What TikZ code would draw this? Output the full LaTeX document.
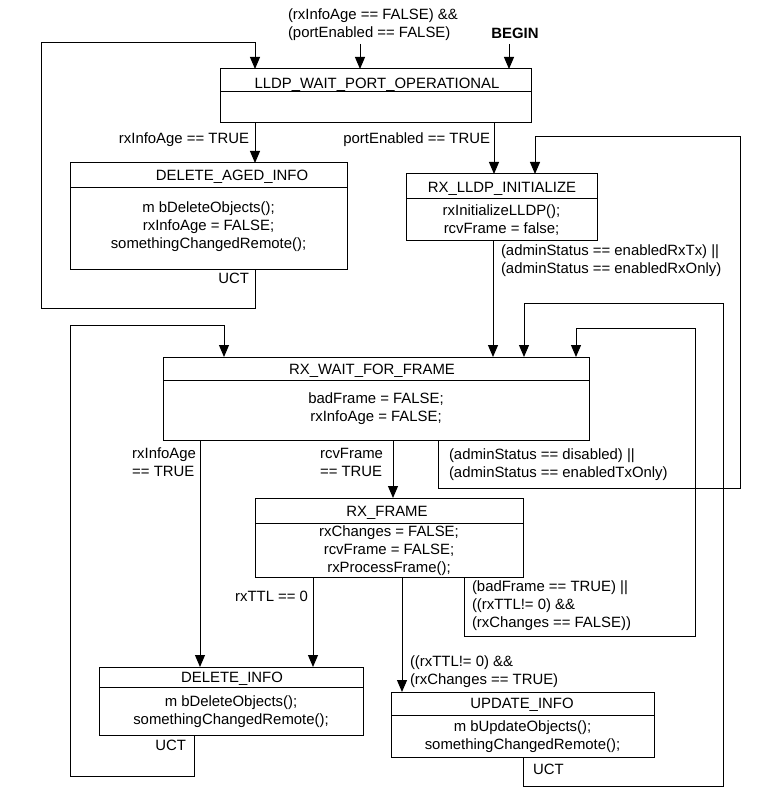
\documentclass[tikz,border=0pt]{standalone}
\usepackage{fontspec}
\setmainfont{Liberation Sans}
\usetikzlibrary{arrows.meta}
\newcommand\myfs{\fontsize{14.9pt}{18pt}\selectfont}
\begin{document}
\begin{tikzpicture}[x=1pt,y=-1pt,
  every node/.style={font=\myfs, inner sep=0pt, outer sep=0pt},
  one/.style={text height=10.7pt, text depth=0pt},
  statebox/.style={draw, line width=1pt, rectangle},
  divline/.style={line width=1pt},
  arr/.style={line width=1pt, -{Triangle[length=12pt,width=10pt]}},
  lbl/.style={align=left}
]
\useasboundingbox (0,0) rectangle (771,802);
\fill[white] (0,0) rectangle (771,802);

% ---- states ----
\node[statebox, minimum width=311pt, minimum height=54pt] (lldp) at (375.5,96) {};
\draw[divline] (lldp.west |- 0,92) -- (lldp.east |- 0,92);
\node[one] (lldpT) at (377,83) {LLDP\_WAIT\_PORT\_OPERATIONAL};

\node[statebox, minimum width=277pt, minimum height=106pt] (dai) at (208.5,216) {};
\draw[divline] (dai.west |- 0,188) -- (dai.east |- 0,188);
\node[one] (daiT) at (232,175) {DELETE\_AGED\_INFO};
\node[align=center] (daiB) at (208.5,227) {m bDeleteObjects();\\rxInfoAge = FALSE;\\somethingChangedRemote();};

\node[statebox, minimum width=191pt, minimum height=66pt] (rxinit) at (501.5,207) {};
\draw[divline] (rxinit.west |- 0,199) -- (rxinit.east |- 0,199);
\node[one] (rxinitT) at (502,187) {RX\_LLDP\_INITIALIZE};
\node[align=center] (rxinitB) at (501.5,220) {rxInitializeLLDP();\\rcvFrame = false;};

\node[statebox, minimum width=426pt, minimum height=83pt] (rxwait) at (376,398.5) {};
\draw[divline] (rxwait.west |- 0,380) -- (rxwait.east |- 0,380);
\node[one] (rxwaitT) at (372,369) {RX\_WAIT\_FOR\_FRAME};
\node[align=center] (rxwaitB) at (376,408.5) {badFrame = FALSE;\\rxInfoAge = FALSE;};

\node[statebox, minimum width=268pt, minimum height=79pt] (rxframe) at (389,537.5) {};
\draw[divline] (rxframe.west |- 0,523) -- (rxframe.east |- 0,523);
\node[one] (rxframeT) at (387,511) {RX\_FRAME};
\node[align=center] (rxframeB) at (389,550.5) {rxChanges = FALSE;\\rcvFrame = FALSE;\\rxProcessFrame();};

\node[statebox, minimum width=264pt, minimum height=68pt] (delinfo) at (231,701) {};
\draw[divline] (delinfo.west |- 0,687) -- (delinfo.east |- 0,687);
\node[one] (delinfoT) at (232,677) {DELETE\_INFO};
\node[align=center] (delinfoB) at (231,711.5) {m bDeleteObjects();\\somethingChangedRemote();};

\node[statebox, minimum width=263pt, minimum height=65pt] (upd) at (522.5,724.5) {};
\draw[divline] (upd.west |- 0,715) -- (upd.east |- 0,715);
\node[one] (updT) at (522,703) {UPDATE\_INFO};
\node[align=center] (updB) at (522.5,737) {m bUpdateObjects();\\somethingChangedRemote();};

% ---- labels ----
\node[lbl, anchor=west] (cond) at (288,24.5) {(rxInfoAge == FALSE) \&\&\\(portEnabled == FALSE)};
\node[one] (begin) at (515,33) {\bfseries BEGIN};
\node[one, anchor=east] (l1) at (249,138) {rxInfoAge == TRUE};
\node[one, anchor=east] (l2) at (490,138) {portEnabled == TRUE};
\node[one, anchor=east] (uct1) at (249,278) {UCT};
\node[lbl, anchor=west] (l3) at (501,261) {(adminStatus == enabledRxTx) ||\\(adminStatus == enabledRxOnly)};
\node[lbl, anchor=east] (l4) at (196,462) {rxInfoAge\\== TRUE};
\node[lbl, anchor=east] (l5) at (383,462) {rcvFrame\\== TRUE};
\node[lbl, anchor=west] (l6) at (449,464.5) {(adminStatus == disabled) ||\\(adminStatus == enabledTxOnly)};
\node[one, anchor=east] (l7) at (308,596) {rxTTL == 0};
\node[lbl, anchor=west] (l8) at (472,606) {(badFrame == TRUE) ||\\((rxTTL!= 0) \&\&\\(rxChanges == FALSE))};
\node[lbl, anchor=west] (l9) at (410,672) {((rxTTL!= 0) \&\&\\(rxChanges == TRUE)};
\node[one, anchor=east] (uct2) at (186,745) {UCT};
\node[one, anchor=west] (uct3) at (533,769) {UCT};

% ---- connectors ----
\coordinate (condEnd) at (360,44);
\coordinate (beginEnd) at (509,44);
\draw[arr] (condEnd) -- (360,0 |- lldp.north);
\draw[arr] (beginEnd) -- (509,0 |- lldp.north);

\draw[arr] (255,0 |- dai.south) -- (255,308) -- (41,308) -- (41,43) -- (255,43) -- (255,0 |- lldp.north);
\draw[arr] (255,0 |- lldp.south) -- (255,0 |- dai.north);
\draw[arr] (494,0 |- lldp.south) -- (494,0 |- rxinit.north);

\draw[arr] (438,0 |- rxwait.south) -- (438,488) -- (740,488) -- (740,137) -- (535,137) -- (535,0 |- rxinit.north);
\draw[arr] (493,0 |- rxinit.south) -- (493,0 |- rxwait.north);

\draw[arr] (194,0 |- delinfo.south) -- (194,776) -- (70,776) -- (70,325) -- (224,325) -- (224,0 |- rxwait.north);
\draw[arr] (523,0 |- upd.south) -- (523,786) -- (723,786) -- (723,303) -- (524,303) -- (524,0 |- rxwait.north);
\draw[arr] (464,0 |- rxframe.south) -- (464,636) -- (695,636) -- (695,328) -- (576,328) -- (576,0 |- rxwait.north);

\draw[arr] (200,0 |- rxwait.south) -- (200,0 |- delinfo.north);
\draw[arr] (393,0 |- rxwait.south) -- (393,0 |- rxframe.north);
\draw[arr] (313,0 |- rxframe.south) -- (313,0 |- delinfo.north);
\draw[arr] (402,0 |- rxframe.south) -- (402,0 |- upd.north);
\end{tikzpicture}
\end{document}
